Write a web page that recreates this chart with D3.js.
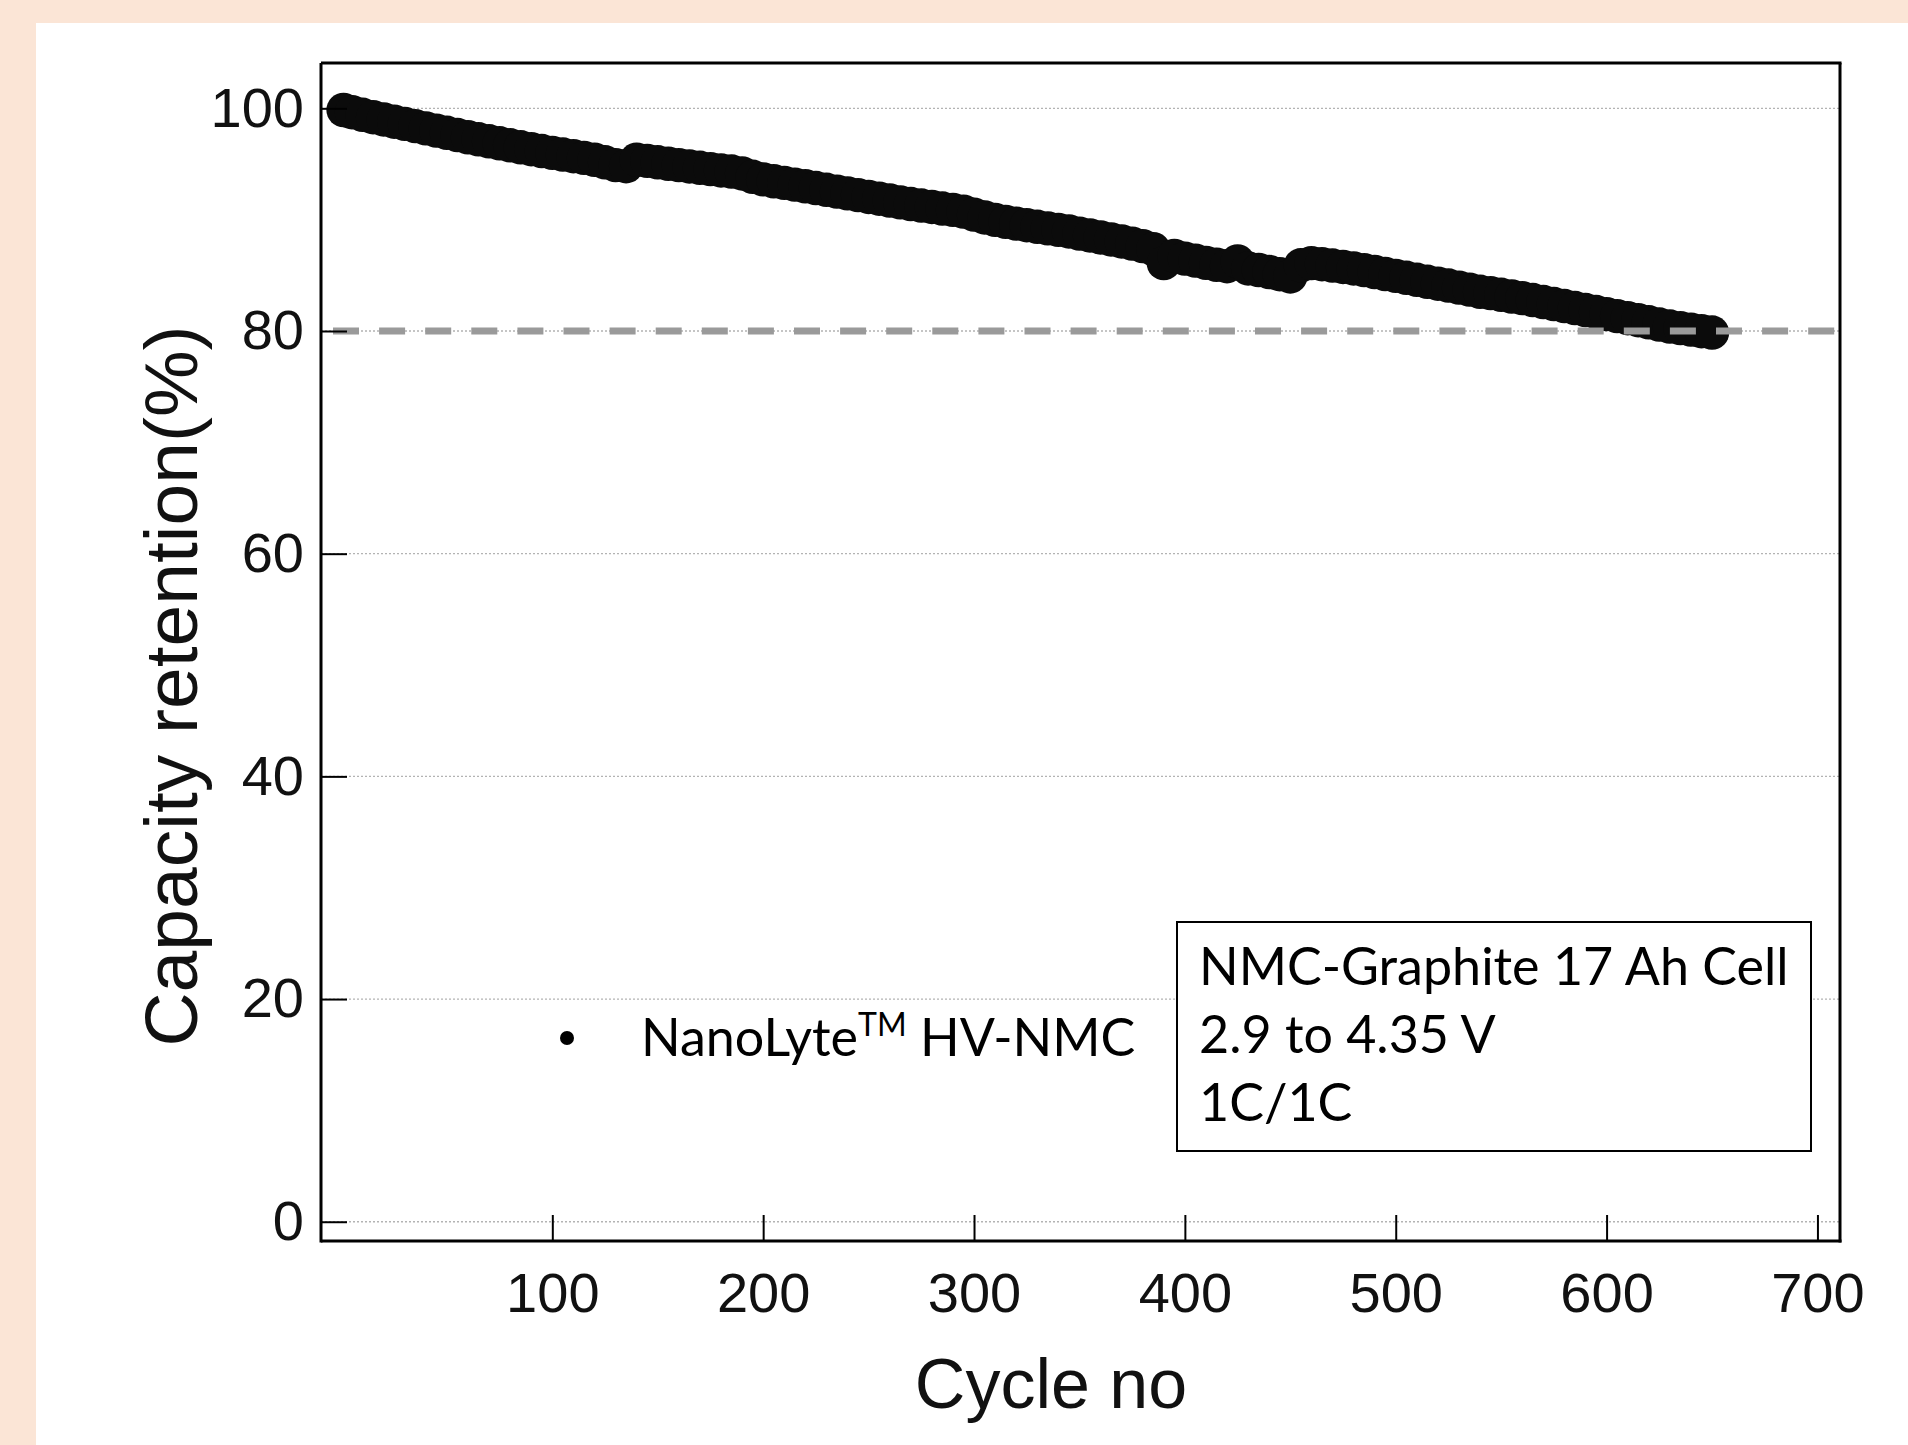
<!DOCTYPE html>
<html><head><meta charset="utf-8">
<script src="https://cdn.jsdelivr.net/npm/d3@7"></script>
<style>html,body{margin:0;padding:0;background:#FBE5D6;} svg{display:block;}</style>
</head><body><svg id="chart" width="1908" height="1445"></svg>
<script>
// ---- data ----
const cycles = [1,5,10,15,20,25,30,35,40,45,50,55,60,65,70,75,80,85,90,95,100,
  105,110,115,120,125,130,135,140,145,150,155,160,165,170,175,180,185,190,195,200,
  205,210,215,220,225,230,235,240,245,250,255,260,265,270,275,280,285,290,295,300,
  305,310,315,320,325,330,335,340,345,350,355,360,365,370,375,380,385,390,395,400,
  405,410,415,420,425,430,435,440,445,450,455,460,465,470,475,480,485,490,495,500,
  505,510,515,520,525,530,535,540,545,550,555,560,565,570,575,580,585,590,595,600,
  605,610,615,620,625,630,635,640,645,650];
const retention = [99.85,99.65,99.42,99.20,99.00,98.80,98.60,98.40,98.20,98.00,97.80,97.60,97.40,97.22,97.04,96.86,96.68,96.50,96.33,96.16,96.00,
  95.85,95.70,95.55,95.38,95.15,94.90,94.80,95.38,95.28,95.15,95.02,94.90,94.78,94.66,94.54,94.42,94.32,94.15,93.85,93.62,
  93.45,93.30,93.15,93.00,92.84,92.68,92.52,92.36,92.20,92.04,91.88,91.72,91.55,91.40,91.27,91.14,91.00,90.88,90.72,90.45,
  90.20,89.98,89.80,89.64,89.50,89.36,89.22,89.08,88.94,88.75,88.58,88.40,88.22,88.04,87.85,87.62,87.35,86.10,86.75,86.50,
  86.32,86.12,85.95,85.82,86.25,85.62,85.48,85.30,85.10,84.90,85.90,86.10,86.00,85.88,85.75,85.62,85.47,85.30,85.12,84.95,
  84.78,84.60,84.42,84.25,84.08,83.90,83.72,83.52,83.40,83.25,83.10,82.95,82.78,82.60,82.42,82.24,82.06,81.88,81.70,81.52,
  81.34,81.15,80.97,80.78,80.58,80.40,80.26,80.12,79.98,79.86];
const xTicks = [100,200,300,400,500,600,700];
const yTicks = [0,20,40,60,80,100];
const thresholdValue = 80;
const xTitle = "Cycle no";
const yTitle = "Capacity retention(%)";
const legendParts = ["NanoLyte", "TM", " HV-NMC"];
const noteLines = ["NMC-Graphite 17 Ah Cell", "2.9 to 4.35 V", "1C/1C"];

// ---- layout ----
const svg = d3.select("#chart");
const L = 321, R = 1840, T = 63, B = 1241;
const x = d3.scaleLinear().domain([-9.7, 710.7]).range([L, R]);
const y = d3.scaleLinear().domain([-1.73, 104.07]).range([B, T]);
const tickFont = "'Liberation Sans', Arial, sans-serif";
const noteFont = "Lato, 'Open Sans', sans-serif";

svg.append("rect").attr("width", 1908).attr("height", 1445).attr("fill", "#FBE5D6");
svg.append("rect").attr("x", 36).attr("y", 23).attr("width", 1908 - 36).attr("height", 1445 - 23).attr("fill", "#ffffff");

// gridlines
svg.append("g").selectAll("line").data(yTicks).join("line")
  .attr("x1", L).attr("x2", R).attr("y1", d => y(d)).attr("y2", d => y(d))
  .attr("stroke", "#b3b3b3").attr("stroke-width", 1.3).attr("stroke-dasharray", "2,2");

// data markers
const pts = cycles.map((c, i) => ({c, v: retention[i]}));
svg.append("g").selectAll("circle").data(pts).join("circle")
  .attr("cx", d => x(d.c)).attr("cy", d => y(d.v)).attr("r", 17.2)
  .attr("fill", "#0b0b0b");

// 80% threshold dashed line
svg.append("line")
  .attr("x1", 333).attr("x2", R - 3).attr("y1", y(thresholdValue)).attr("y2", y(thresholdValue))
  .attr("stroke", "#9a9a9a").attr("stroke-width", 7).attr("stroke-dasharray", "26,20.1");

// axes
const xAxis = d3.axisBottom(x).tickValues(xTicks).tickSizeInner(-26).tickSizeOuter(0).tickPadding(31);
const gx = svg.append("g").attr("transform", `translate(0,${B})`).call(xAxis);
const yAxis = d3.axisLeft(y).tickValues(yTicks).tickSizeInner(-26).tickSizeOuter(0).tickPadding(17);
const gy = svg.append("g").attr("transform", `translate(${L},0)`).call(yAxis);
[gx, gy].forEach(g => {
  g.select(".domain").remove();
  g.selectAll(".tick line").attr("stroke", "#000").attr("stroke-width", 2);
  g.selectAll(".tick text").attr("font-family", tickFont).attr("font-size", 56).attr("fill", "#111");
});

// frame
const frame = svg.append("g").attr("stroke", "#000").attr("stroke-width", 3);
frame.append("line").attr("x1", L).attr("x2", R + 1.5).attr("y1", T).attr("y2", T);
frame.append("line").attr("x1", L).attr("x2", R + 1.5).attr("y1", B).attr("y2", B);
frame.append("line").attr("x1", L).attr("x2", L).attr("y1", T).attr("y2", B + 1.5);
frame.append("line").attr("x1", R).attr("x2", R).attr("y1", T).attr("y2", B + 1.5);

// titles
svg.append("text").attr("x", 1051).attr("y", 1408).attr("text-anchor", "middle")
  .attr("font-family", tickFont).attr("font-size", 70).attr("fill", "#111").text(xTitle);
svg.append("text").attr("transform", "translate(197,686) rotate(-90)").attr("text-anchor", "middle")
  .attr("font-family", tickFont).attr("font-size", 75).attr("fill", "#111").text(yTitle);

// note box
svg.append("rect").attr("x", 1177).attr("y", 922).attr("width", 634).attr("height", 229)
  .attr("fill", "#fff").attr("stroke", "#000").attr("stroke-width", 2);
svg.append("g").selectAll("text").data(noteLines).join("text")
  .attr("x", 1199).attr("y", (d, i) => 985 + i * 68)
  .attr("font-family", noteFont).attr("font-size", 52).attr("fill", "#000").text(d => d);

// legend
svg.append("circle").attr("cx", 567).attr("cy", 1038).attr("r", 7).attr("fill", "#000");
const lt = svg.append("text").attr("x", 641).attr("y", 1056)
  .attr("font-family", noteFont).attr("font-size", 52).attr("fill", "#000");
lt.append("tspan").text(legendParts[0]);
lt.append("tspan").attr("font-size", 32).attr("dy", -20).text(legendParts[1]);
lt.append("tspan").attr("dy", 20).text(legendParts[2]);
</script></body></html>
